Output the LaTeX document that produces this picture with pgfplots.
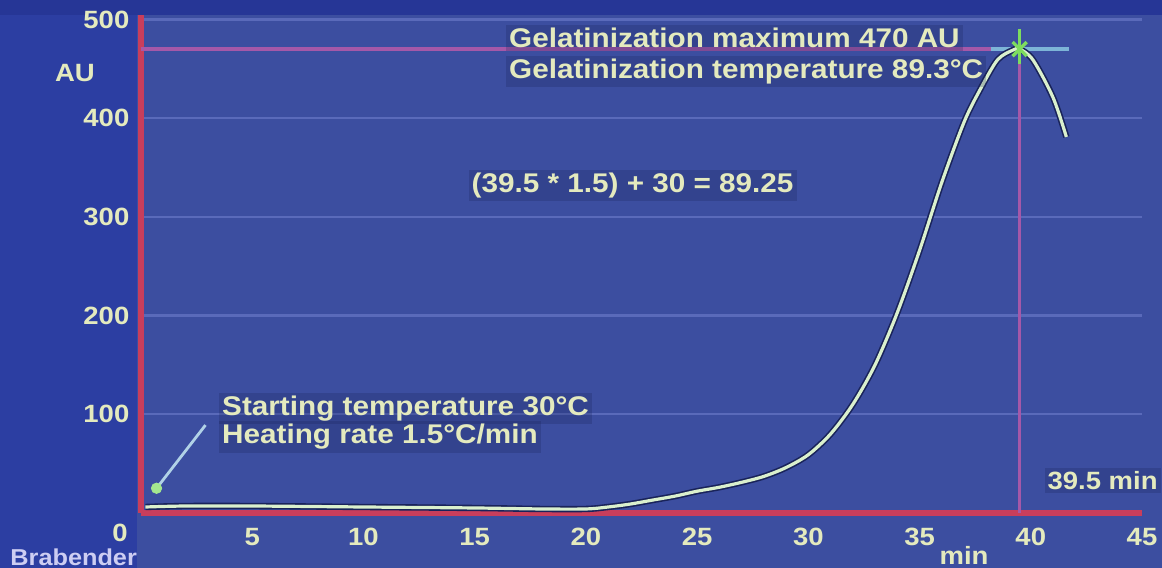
\documentclass[border=0pt]{standalone}
\usepackage{fontspec}
\setmainfont{Liberation Sans}[FakeStretch=1.1]
\usepackage{pgfplots}
\pgfplotsset{compat=1.18}
\definecolor{bgout}{RGB}{44,62,162}
\definecolor{bgtop}{RGB}{38,54,150}
\definecolor{bgplot}{RGB}{60,78,160}
\definecolor{gridc}{RGB}{90,106,186}
\definecolor{axred}{RGB}{200,62,92}
\definecolor{pinkl}{RGB}{165,88,168}
\definecolor{txt}{RGB}{228,234,190}
\definecolor{curvec}{RGB}{218,240,205}
\definecolor{curvedk}{RGB}{25,35,90}
\definecolor{greenm}{RGB}{125,220,95}
\definecolor{cyanl}{RGB}{125,180,215}
\definecolor{brab}{RGB}{205,205,242}
\pgfplotstableread{
x y
0.2 6
2 7
5 7
10 6
15 5
18 4
20 4
21 6
22 9
23 13
24 17
25 22
26 26
27 31
28 37
29 46
30 59
31 80
32 110
33 150
34 203
35 266
36 335
37 396
37.7 428
38.5 459
39.2 469
39.5 470
40.1 459
41.0 421
41.6 381
}\curvedata
\begin{document}
\begin{tikzpicture}
\fill[bgout] (-70.5pt,-27.5pt) rectangle (510.6pt,256.5pt);
\fill[bgtop] (-70.5pt,249pt) rectangle (510.6pt,256.5pt);
\fill[bgplot] (-2pt,-27.5pt) rectangle (510.6pt,249pt);
\begin{axis}[
  scale only axis, width=500.6pt, height=246.75pt,
  xmin=0, xmax=45, ymin=0, ymax=500,
  axis line style={draw=none},
  xtick={5,10,...,45}, ytick={100,200,...,500},
  major tick length=0pt, tick style={draw=none},
  ymajorgrids, grid style={gridc, line width=1.2pt},
  ticklabel style={txt, font=\bfseries\fontsize{12.5}{14}\selectfont},
  xticklabel style={yshift=-4pt},
  yticklabel style={xshift=-2.3pt},
  /pgf/number format/assume math mode=true,
  clip=false,
]
% red axes
\draw[axred, line width=2.6pt] (axis cs:0,0) -- (axis cs:0,505);
\draw[axred, line width=2.6pt] (axis cs:0,0) -- (axis cs:45,0);
% reference lines
\draw[pinkl, line width=1.8pt] (axis cs:0,470) -- (axis cs:38.2,470);
\draw[cyanl, line width=1.6pt] (axis cs:38.2,470) -- (axis cs:41.7,470);
\draw[pinkl, line width=1.8pt] (axis cs:39.5,0) -- (axis cs:39.5,455);
% curve
\addplot[curvedk, line width=3.2pt, smooth] table[x=x,y=y] {\curvedata};
\addplot[curvec, line width=1.6pt, smooth] table[x=x,y=y] {\curvedata};
% peak marker
\draw[greenm, line width=1.6pt] (axis cs:39.5,455) -- (axis cs:39.5,490);
\addplot[only marks, mark=x, mark size=5pt, greenm, line width=1.6pt] coordinates {(39.5,470)};
% starting arrow
\draw[cyanl!60!white, line width=1.4pt] (axis cs:2.9,89) -- (axis cs:0.6,22);
\addplot[only marks, mark=*, mark size=2.6pt, greenm!70!white] coordinates {(0.7,25)};
% texts
\tikzset{lbl/.style={txt, font=\bfseries\fontsize{13.5}{15}\selectfont, inner sep=1.5pt, fill=curvedk, fill opacity=0.25, text opacity=1}}
\node[lbl, anchor=west] at (axis cs:16.4,481) {Gelatinization maximum 470 AU};
\node[lbl, anchor=west] at (axis cs:16.4,447) {Gelatinization temperature 89.3°C};
\node[lbl] at (axis cs:22.1,332) {(39.5 * 1.5) + 30 = 89.25};
\node[lbl, anchor=west] at (axis cs:3.5,106) {Starting temperature 30°C};
\node[lbl, anchor=west] at (axis cs:3.5,77) {Heating rate 1.5°C/min};
\node[lbl, anchor=east, font=\bfseries\fontsize{12.5}{14}\selectfont] at (axis cs:45,33) [xshift=9.5pt] {39.5 min};
\node[txt, font=\bfseries\fontsize{12.5}{14}\selectfont] at (axis cs:0,446) [xshift=-33pt] {AU};
\node[txt, font=\bfseries\fontsize{12.5}{14}\selectfont] at (axis cs:0,0) [xshift=-10.5pt, yshift=-10pt] {0};
\node[txt, font=\bfseries\fontsize{12.5}{14}\selectfont, inner sep=0pt] at (axis cs:37,0) [yshift=-21.5pt] {min};
\end{axis}
\node[brab, font=\bfseries\fontsize{11.5}{13}\selectfont, anchor=west, inner sep=0pt] at (-65.5pt,-22pt) {Brabender};
\pgfresetboundingbox
\useasboundingbox (-70.5pt,-27.5pt) rectangle (510.6pt,256.5pt);
\end{tikzpicture}
\end{document}
